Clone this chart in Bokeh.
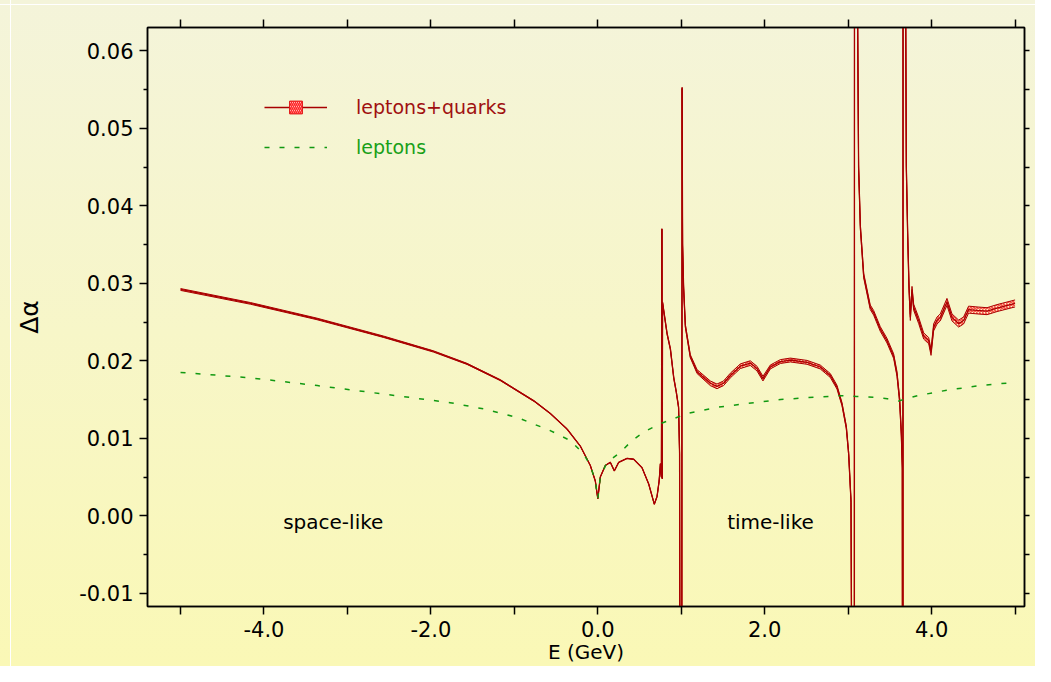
import numpy as np
from bokeh.plotting import figure
from bokeh.models import (Range1d, FixedTicker, LinearAxis, Legend, LegendItem,
                          Label, ColumnDataSource, NumeralTickFormatter,
                          CustomLabelingPolicy)
from bokeh.embed import file_html
from bokeh.resources import INLINE

# ---------------- data ----------------
energy_had = [-5.0, -4.16, -3.365, -2.567, -1.968, -1.567, -1.168, -0.763, -0.569, -0.369,
              -0.21, -0.09, -0.03, 0.0, 0.03, 0.09, 0.15, 0.198, 0.25, 0.35,
              0.43, 0.53, 0.61, 0.677, 0.71, 0.735, 0.75, 0.762, 0.768, 0.772,
              0.776, 0.83, 0.87, 0.91, 0.94, 0.968, 0.98, 0.988, 1.005, 1.010,
              1.016, 1.028, 1.049, 1.108, 1.19, 1.348, 1.428, 1.507, 1.588, 1.708,
              1.827, 1.907, 1.979, 2.067, 2.187, 2.307, 2.507, 2.666, 2.786, 2.866,
              2.926, 2.978, 3.006, 3.034, 3.054, 3.074, 3.076, 3.098, 3.125, 3.146,
              3.186, 3.265, 3.305, 3.385, 3.465, 3.545, 3.585, 3.617, 3.637, 3.649,
              3.652, 3.656, 3.658, 3.68, 3.697, 3.713, 3.729, 3.745, 3.765, 3.785,
              3.845, 3.905, 3.965, 3.993, 4.024, 4.065, 4.104, 4.184, 4.244, 4.324,
              4.383, 4.443, 4.544, 4.664, 4.784, 5.0]
dalpha_had = [0.0292, 0.0274, 0.0254, 0.0231, 0.0212, 0.0196, 0.0175, 0.0148, 0.0132, 0.0112,
              0.0090, 0.0065, 0.0045, 0.0022, 0.0050, 0.0065, 0.0069, 0.0058, 0.0069, 0.0074,
              0.0073, 0.0062, 0.0041, 0.0015, 0.0025, 0.0045, 0.0067, 0.0050, 0.0370, 0.0048,
              0.0275, 0.0235, 0.0215, 0.0178, 0.0160, 0.0140, 0.0080, -0.05, -0.05, 0.0552,
              0.0350, 0.0295, 0.0245, 0.0206, 0.0186, 0.0171, 0.0167, 0.0171, 0.0181, 0.0193,
              0.0197, 0.0190, 0.0177, 0.0192, 0.0199, 0.0201, 0.0198, 0.0192, 0.0181, 0.0166,
              0.0144, 0.0114, 0.0080, 0.0019, -0.05, -0.05, 0.09, 0.09, 0.0450, 0.0373,
              0.0310, 0.0269, 0.0262, 0.0241, 0.0226, 0.0206, 0.0183, 0.0149, 0.0106, 0.0062,
              -0.05, -0.05, 0.09, 0.09, 0.0450, 0.0364, 0.0295, 0.0256, 0.0292, 0.0269,
              0.0252, 0.0232, 0.0226, 0.0211, 0.0243, 0.0252, 0.0256, 0.0276, 0.0256, 0.0248,
              0.0252, 0.0266, 0.0265, 0.0264, 0.0268, 0.0274]
error_had = [0.00012, 0.00011, 0.0001, 0.00009, 0.00008, 0.00007, 0.00006, 0.00005, 0.00004, 0.00004,
             0.00003, 0.00002, 0.00002, 0.00002, 0.00002, 0.00002, 0.00002, 0.00002, 0.00002, 0.00002,
             0.00002, 0.00002, 0.00003, 0.00003, 0.00003, 0.00004, 0.00005, 0.00005, 0.00005, 0.00005,
             0.0001, 0.0001, 0.0001, 0.0001, 0.0001, 0.0001, 0.0001, 0.0001, 0.0001, 0.0001,
             0.00015, 0.00015, 0.0002, 0.0002, 0.00025, 0.0003, 0.0003, 0.0003, 0.0003, 0.0003,
             0.0003, 0.0003, 0.0003, 0.00025, 0.00025, 0.00025, 0.00025, 0.00025, 0.00025, 0.00025,
             0.0002, 0.0002, 0.0002, 0.0002, 0.0002, 0.0002, 0.0002, 0.0002, 0.0003, 0.0003,
             0.0003, 0.0003, 0.0003, 0.0003, 0.0003, 0.0003, 0.0003, 0.0003, 0.0003, 0.0003,
             0.0003, 0.0003, 0.0003, 0.0003, 0.0004, 0.0004, 0.0004, 0.0004, 0.0004, 0.0004,
             0.0004, 0.0004, 0.0004, 0.0004, 0.00045, 0.00045, 0.00045, 0.00045, 0.00045, 0.00045,
             0.00045, 0.00045, 0.00045, 0.00045, 0.00045, 0.00045]

energy_lep = [-5.0, -4.16, -3.36, -2.56, -1.77, -1.37, -0.97, -0.57, -0.33, -0.17,
              -0.09, -0.03, 0.0, 0.03, 0.11, 0.27, 0.41, 0.55, 0.73, 1.07,
              1.43, 1.79, 2.19, 2.59, 2.91, 3.1, 3.31, 3.47, 3.60, 3.83,
              4.18, 4.58, 4.98]
dalpha_lep = [0.0185, 0.0178, 0.0168, 0.0157, 0.0146, 0.0138, 0.0127, 0.0110, 0.0097, 0.0080,
              0.0065, 0.0045, 0.0022, 0.0050, 0.0069, 0.0082, 0.0097, 0.0108, 0.0118, 0.0132,
              0.0140, 0.0145, 0.0150, 0.0153, 0.0155, 0.0154, 0.0153, 0.0151, 0.0148, 0.0155,
              0.0162, 0.0168, 0.0172]

x_label_ticks = [-4, -2, 0, 2, 4]
x_minor_ticks = [-5, -3, -1, 1, 3, 5]
x_all_ticks = [-5, -4, -3, -2, -1, 0, 1, 2, 3, 4, 5]
x_tick_labels = {-4: "-4.0", -2: "-2.0", 0: "0.0", 2: "2.0", 4: "4.0"}
y_ticks = [-0.01, 0.0, 0.01, 0.02, 0.03, 0.04, 0.05, 0.06]
y_minor_ticks = [-0.005, 0.005, 0.015, 0.025, 0.035, 0.045, 0.055]
y_right_ticks = [-0.01, -0.005, 0.0, 0.005, 0.01, 0.015, 0.02, 0.025, 0.03,
                 0.035, 0.04, 0.045, 0.05, 0.055, 0.06]

# ---------------- figure ----------------
FONT = "DejaVu Sans"
DARK_RED = "#a80000"
HATCH_RED = "#ff2020"
GREEN = "#119911"

p = figure(width=1035, height=666, output_backend="svg", toolbar_location=None,
           x_range=Range1d(-5.396, 5.113), y_range=Range1d(-0.0117, 0.0630),
           min_border_left=147, min_border_top=27, min_border_right=0,
           min_border_bottom=58,
           background_fill_color=None, border_fill_color=None,
           outline_line_color="black", outline_line_width=1.5)
p.styles = {"background": "linear-gradient(to right, rgba(0,0,0,0) 10px, #ffffff 10px, "
                          "#ffffff 11px, rgba(0,0,0,0) 11px), "
                          "linear-gradient(to bottom, rgba(0,0,0,0) 4px, #ffffff 4px, "
                          "#ffffff 5px, rgba(0,0,0,0) 5px), "
                          "linear-gradient(to bottom, #f4f4da, #faf8b6)"}
p.grid.visible = False

for ax in (p.xaxis[0], p.yaxis[0]):
    ax.axis_line_color = "black"
    ax.axis_line_width = 1.5
    ax.major_tick_line_color = "black"
    ax.major_tick_line_width = 1.5
    ax.minor_tick_line_color = "black"
    ax.minor_tick_line_width = 1.5
    ax.major_tick_in = 0
    ax.major_tick_out = 8
    ax.minor_tick_in = 0
    ax.major_label_text_font = FONT
    ax.major_label_text_font_size = "21px"
    ax.major_label_text_color = "black"
    ax.axis_label_text_font = FONT
    ax.axis_label_text_font_style = "normal"
    ax.axis_label_text_color = "black"

p.xaxis[0].ticker = FixedTicker(ticks=x_label_ticks, minor_ticks=x_minor_ticks)
p.xaxis[0].minor_tick_out = 8
p.xaxis[0].major_label_overrides = x_tick_labels
p.xaxis[0].major_label_standoff = 6
p.xaxis[0].axis_label = "E (GeV)"
p.xaxis[0].axis_label_text_font_size = "20px"
p.xaxis[0].axis_label_standoff = 0

p.yaxis[0].ticker = FixedTicker(ticks=y_ticks, minor_ticks=y_minor_ticks)
p.yaxis[0].minor_tick_out = 4
p.yaxis[0].formatter = NumeralTickFormatter(format="0.00")
p.yaxis[0].major_label_standoff = 6
p.yaxis[0].axis_label = "Δα"
p.yaxis[0].axis_label_text_font_size = "25px"
p.yaxis[0].axis_label_standoff = 32

no_labels = "for (const i of indices) indices.unset(i)"
top_axis = LinearAxis(ticker=FixedTicker(ticks=x_all_ticks), major_label_text_font_size="1px",
                      major_label_policy=CustomLabelingPolicy(code=no_labels),
                      major_label_standoff=0, major_tick_in=0, major_tick_out=8,
                      major_tick_line_width=1.5, axis_line_color="black", axis_line_width=1.5)
p.add_layout(top_axis, "above")
right_axis = LinearAxis(ticker=FixedTicker(ticks=y_right_ticks), major_label_text_font_size="1px",
                        major_label_policy=CustomLabelingPolicy(code=no_labels),
                        major_label_standoff=0, major_tick_in=0, major_tick_out=5,
                        major_tick_line_width=1.5, axis_line_color="black", axis_line_width=1.5)
p.add_layout(right_axis, "right")

# ---------------- glyphs ----------------
had = np.array(dalpha_had)
err = np.array(error_had)
src = ColumnDataSource(data=dict(E=energy_had, v=had, lo=had - err, hi=had + err))

p.varea(x="E", y1="lo", y2="hi", source=src, fill_alpha=0, fill_color=None,
        hatch_pattern="/", hatch_color=HATCH_RED, hatch_scale=3, hatch_weight=1)
p.line(x="E", y="hi", source=src, line_color=DARK_RED, line_width=1)
p.line(x="E", y="lo", source=src, line_color=DARK_RED, line_width=1)
central = p.line(x="E", y="v", source=src, line_color=DARK_RED, line_width=1.3)

lep_line = p.line(energy_lep, dalpha_lep, line_color=GREEN, line_width=1.5, line_dash="5 10")

proxy = p.scatter(x=np.array([np.nan]), y=np.array([np.nan]), marker="square", size=13,
                  fill_color="white", line_color="#e01010", line_width=1,
                  hatch_pattern="\\", hatch_color=HATCH_RED, hatch_scale=4, hatch_weight=1.5)

leg_common = dict(orientation="vertical", glyph_width=63, glyph_height=32, label_standoff=29,
                  padding=0, margin=0, spacing=0, border_line_color=None,
                  background_fill_alpha=0, label_text_font=FONT, label_text_font_size="19px")
legend1 = Legend(items=[LegendItem(label="leptons+quarks", renderers=[central, proxy])],
                 location=(117, 483), label_text_color="#a01010", **leg_common)
legend2 = Legend(items=[LegendItem(label="leptons", renderers=[lep_line])],
                 location=(117, 443), label_text_color="#18a018", **leg_common)
p.add_layout(legend1)
p.add_layout(legend2)

p.add_layout(Label(x=-3.77, y=-0.0008, text="space-like", text_font=FONT,
                   text_font_size="20px", text_color="black", text_baseline="middle"))
p.add_layout(Label(x=1.55, y=-0.0008, text="time-like", text_font=FONT,
                   text_font_size="20px", text_color="black", text_baseline="middle"))

open("out.html", "w").write(file_html(p, INLINE))
